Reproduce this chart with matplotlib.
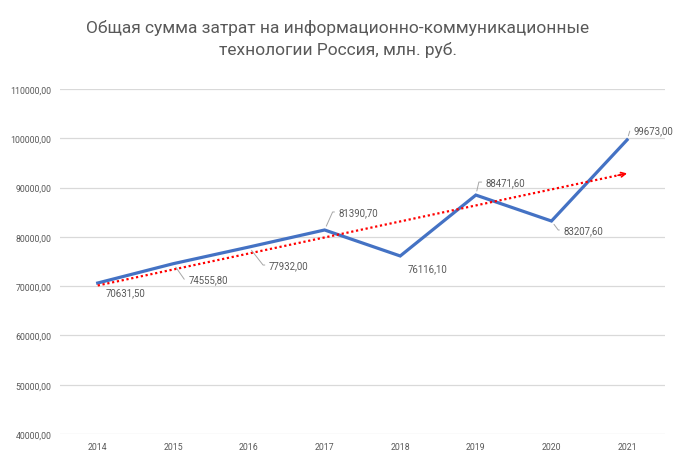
import numpy as np
import matplotlib.pyplot as plt
from matplotlib.ticker import FuncFormatter

years = ['2014', '2015', '2016', '2017', '2018', '2019', '2020', '2021']
costs = [70631.5, 74555.8, 77932.0, 81390.7, 76116.1, 88471.6, 83207.6, 99673.0]
title = 'Общая сумма затрат на информационно-коммуникационные\nтехнологии Россия, млн. руб.'

plt.rcParams['font.family'] = ['Roboto', 'DejaVu Sans']
grey = '#595959'

fig = plt.figure(figsize=(6.73, 4.52), dpi=100)
ax = fig.add_axes([0.089, 0.0376, 0.899, 0.7634])

x = np.arange(len(years))
ax.plot(x, costs, color='#4472C4', lw=2.3, solid_joinstyle='miter', zorder=3)

# linear trend
k, b = np.polyfit(x, costs, 1)
trend = k * x + b
ax.plot(x[:-1].tolist() + [x[-1] - 0.05], list(trend[:-1]) + [k * (x[-1] - 0.05) + b],
        color='#FF0000', lw=1.6, ls=(0, (1, 1.2)), zorder=4)
ax.annotate('', xy=(x[-1], trend[-1]), xytext=(x[-1] - 0.12, k * (x[-1] - 0.12) + b),
            arrowprops=dict(arrowstyle='->', color='#FF0000', lw=1.2,
                            mutation_scale=8, shrinkA=0, shrinkB=0), zorder=4)

# label offsets in pixels (dx, dy), leader angle at the point (None = no leader)
offs = [(8, -9, None), (15, -16, -55), (20, -18, -52), (14, 18, 66),
        (7, -12, None), (10, 13, 77), (12, -9, -53), (6, 10, 73)]
for xi, v, (dx, dy, ang) in zip(x, costs, offs):
    label = f'{v:.2f}'.replace('.', ',')
    ap = None
    if ang is not None:
        ap = dict(arrowstyle='-', color='#a6a6a6', lw=0.7, shrinkA=1, shrinkB=3,
                  relpos=(0, 0.5), connectionstyle=f'angle,angleA=0,angleB={ang},rad=0')
    ax.annotate(label, xy=(xi, v), xytext=(dx, dy), textcoords='offset pixels',
                ha='left', va='center', fontsize=6.9, color=grey,
                arrowprops=ap, annotation_clip=False, zorder=5)

ax.set_xlim(-0.5, 7.5)
ax.set_ylim(40000, 110000)
ax.set_yticks(np.arange(40000, 110001, 10000))
ax.yaxis.set_major_formatter(FuncFormatter(lambda v, p: f'{v:.2f}'.replace('.', ',')))
ax.set_xticks(x)
ax.set_xticklabels(years)
ax.grid(axis='y', color='#d9d9d9', lw=0.9)
ax.set_axisbelow(True)
for s in ax.spines.values():
    s.set_visible(False)
ax.tick_params(length=0, labelsize=6.3, colors=grey, pad=6)
ax.tick_params(axis='x', pad=6)

fig.text(0.502, 0.955, title, ha='center', va='top', fontsize=12.5,
         color=grey, linespacing=1.45)

fig.savefig('out.png', dpi=100)
